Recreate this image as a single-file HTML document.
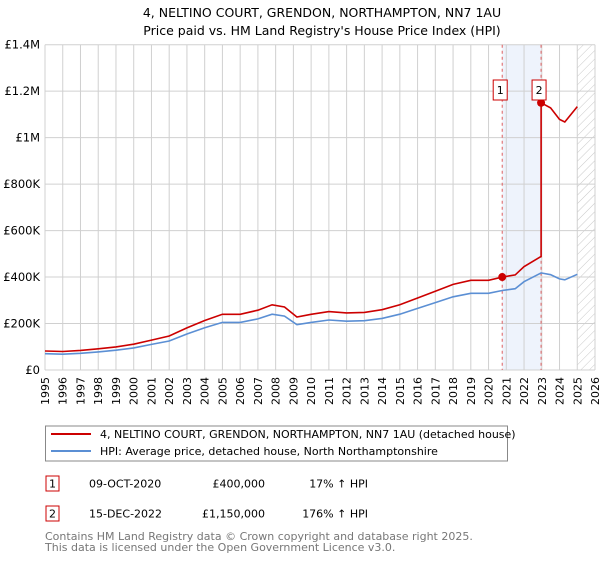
<!DOCTYPE html>
<html><head><meta charset="utf-8"><style>
body{margin:0;background:#fff;font-family:"DejaVu Sans","Liberation Sans",sans-serif;}
svg text{font-family:"DejaVu Sans","Liberation Sans",sans-serif;}
</style></head><body>
<svg id="c" width="600" height="560" xmlns="http://www.w3.org/2000/svg">
<defs><pattern id="hatch" width="6" height="6" patternUnits="userSpaceOnUse" patternTransform="rotate(45)"><line x1="0" y1="0" x2="0" y2="6" stroke="#bbb" stroke-width="0.8"/></pattern></defs>
<text x="322" y="17" font-size="12.5" text-anchor="middle">4, NELTINO COURT, GRENDON, NORTHAMPTON, NN7 1AU</text>
<text x="322" y="35" font-size="12.5" text-anchor="middle">Price paid vs. HM Land Registry's House Price Index (HPI)</text>
<g id="grid"></g><g id="marks"></g><g id="axes"></g>
<rect x="45.5" y="426" width="462" height="35" fill="#fff" stroke="#888"/>
<line x1="51" y1="434" x2="91" y2="434" stroke="#cc0000" stroke-width="2"/>
<text x="100" y="438" font-size="11">4, NELTINO COURT, GRENDON, NORTHAMPTON, NN7 1AU (detached house)</text>
<line x1="51" y1="451" x2="91" y2="451" stroke="#5b8fd4" stroke-width="2"/>
<text x="100" y="455" font-size="11">HPI: Average price, detached house, North Northamptonshire</text>
<g>
<rect x="46" y="476" width="13" height="15" fill="#fff" stroke="#cc0000"/><text x="52.5" y="487.5" font-size="11" text-anchor="middle">1</text>
<text x="89" y="487.5" font-size="11">09-OCT-2020</text><text x="265" y="487.5" font-size="11" text-anchor="end">£400,000</text><text x="368" y="487.5" font-size="11" text-anchor="end">17% ↑ HPI</text></g>
<g>
<rect x="46" y="506" width="13" height="15" fill="#fff" stroke="#cc0000"/><text x="52.5" y="517.5" font-size="11" text-anchor="middle">2</text>
<text x="89" y="517.5" font-size="11">15-DEC-2022</text><text x="265" y="517.5" font-size="11" text-anchor="end">£1,150,000</text><text x="368" y="517.5" font-size="11" text-anchor="end">176% ↑ HPI</text></g>
<text x="45" y="540" font-size="11" fill="#777">Contains HM Land Registry data © Crown copyright and database right 2025.</text>
<text x="45" y="551" font-size="11" fill="#777">This data is licensed under the Open Government Licence v3.0.</text>
</svg>
<script>
const hpiYears=[1995,1996,1997,1998,1999,2000,2001,2002,2003,2004,2005,2006,2007,2007.8,2008.5,2009.2,2010,2011,2012,2013,2014,2015,2016,2017,2018,2019,2020,2020.77,2021.5,2022,2022.96,2023.5,2024,2024.3,2025];
const hpiValues=[70000,68000,72000,78000,85000,95000,110000,125000,155000,182000,205000,205000,220000,240000,232000,195000,205000,215000,210000,212000,222000,240000,265000,290000,315000,330000,330000,342000,350000,380000,418000,410000,392000,388000,412000];
const saleYears=[2020.77,2022.96];
const salePrices=[400000,1150000];
const saleLabels=["1","2"];
const yTicks=[0,200000,400000,600000,800000,1000000,1200000,1400000];
const yTickLabels=["£0","£200K","£400K","£600K","£800K","£1M","£1.2M","£1.4M"];
const NS="http://www.w3.org/2000/svg";
const X0=45,X1=595,Y0=370,Y1=44.7;
const x=y=>X0+(y-1995)*(X1-X0)/31;
const yv=v=>Y0-v*(Y0-Y1)/1400000;
function mk(t,a,p){const e=document.createElementNS(NS,t);for(const k in a)e.setAttribute(k,a[k]);p.appendChild(e);return e;}
const grid=document.getElementById('grid'),marks=document.getElementById('marks'),axes=document.getElementById('axes');
let r=mk('rect',{x:x(saleYears[0]),y:Y1,width:x(saleYears[1])-x(saleYears[0]),height:Y0-Y1,fill:'#eef3fc'},grid);


let h=mk('rect',{x:x(2025),y:Y1,width:X1-x(2025),height:Y0-Y1,fill:'url(#hatch)'},grid);


for(let yr=1995;yr<=2026;yr++){
 const l=mk('line',{x1:x(yr),y1:Y1,x2:x(yr),y2:Y0,stroke:'#d0d0d0','stroke-width':1},grid);
 
 
 const g=mk('g',{transform:'translate('+(x(yr)+4)+',377) rotate(-90)'},axes);
 const t=mk('text',{x:0,y:0,'font-size':11,'text-anchor':'end'},g);
 t.textContent=yr;
 
 
}
yTicks.forEach((v,i)=>{
 const l=mk('line',{x1:X0,y1:yv(v),x2:X1,y2:yv(v),stroke:'#d0d0d0','stroke-width':1},grid);
 
 
 const t=mk('text',{x:40,y:yv(v)+4,'font-size':11.5,'text-anchor':'end'},axes);
 t.textContent=yTickLabels[i];
 
 
});
function hpiAt(t){for(let i=0;i<hpiYears.length-1;i++){if(t<=hpiYears[i+1]){const f=(t-hpiYears[i])/(hpiYears[i+1]-hpiYears[i]);return hpiValues[i]+f*(hpiValues[i+1]-hpiValues[i]);}}return hpiValues[hpiValues.length-1];}
const r1=salePrices[0]/hpiAt(saleYears[0]),r2=salePrices[1]/hpiAt(saleYears[1]);
let hp='',rp='';
hpiYears.forEach((t,i)=>{hp+=(i?'L':'M')+x(t).toFixed(1)+','+yv(hpiValues[i]).toFixed(1);});
hpiYears.forEach((t,i)=>{const ratio=t<saleYears[1]?r1:r2;
 if(Math.abs(t-saleYears[1])<1e-6){rp+='L'+x(t).toFixed(1)+','+yv(hpiValues[i]*r1).toFixed(1);}
 rp+=(i?'L':'M')+x(t).toFixed(1)+','+yv(hpiValues[i]*ratio).toFixed(1);});
saleYears.forEach((t,i)=>{
 const l=mk('line',{x1:x(t),y1:Y1,x2:x(t),y2:Y0,stroke:'#e06060','stroke-width':1,'stroke-dasharray':'3,3'},marks);
 
 
});
const hl=mk('path',{d:hp,fill:'none',stroke:'#5b8fd4','stroke-width':1.6},marks);


const rl=mk('path',{d:rp,fill:'none',stroke:'#cc0000','stroke-width':1.6},marks);


saleYears.forEach((t,i)=>{
 const c=mk('circle',{cx:x(t),cy:yv(salePrices[i]),r:4,fill:'#cc0000'},marks);
 
 
 const b=mk('rect',{x:x(t)-2-7,y:80,width:14,height:20,fill:'#fff',stroke:'#cc0000'},marks);
 
 
 const tx=mk('text',{x:x(t)-2,y:94,'font-size':11,'text-anchor':'middle'},marks);
 tx.textContent=saleLabels[i];
 
 
});
</script>
</body></html>
